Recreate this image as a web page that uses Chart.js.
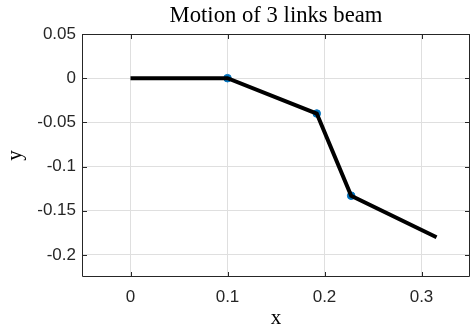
<!DOCTYPE html>
<html>
<head>
<meta charset="utf-8">
<script src="https://cdn.jsdelivr.net/npm/chart.js@4.4.1/dist/chart.umd.min.js"></script>
<style>
  html, body { margin: 0; padding: 0; background: #ffffff; }
  #wrap { width: 472px; height: 329px; }
</style>
</head>
<body>
<div id="wrap"><canvas id="c" width="472" height="329"></canvas></div>
<script>
// ---- data ----
const chartTitle = 'Motion of 3 links beam';
const xAxisLabel = 'x';
const yAxisLabel = 'y';
const beamX = [0, 0.1, 0.192, 0.2275, 0.3155];
const beamY = [0, 0, -0.040, -0.133, -0.180];
const jointX = [0.1, 0.192, 0.2275];
const jointY = [0, -0.040, -0.133];
const xTicks = [0, 0.1, 0.2, 0.3];
const xTickLabels = ['0', '0.1', '0.2', '0.3'];
const yTicks = [0.05, 0, -0.05, -0.1, -0.15, -0.2];
const yTickLabels = ['0.05', '0', '-0.05', '-0.1', '-0.15', '-0.2'];
const xRange = [-0.05, 0.35];
const yRange = [-0.225, 0.05];

const axisColor = '#262626';
const gridColor = '#dfdfdf';
const serif = "'Liberation Serif', 'Times New Roman', serif";
const sans = "'Liberation Sans', Arial, Helvetica, sans-serif";

function labelFor(ticks, labels, v) {
  const i = ticks.findIndex(t => Math.abs(t - v) < 1e-9);
  return i >= 0 ? labels[i] : '';
}

// MATLAB-like box with inward tick marks on all four sides, and the title
const boxPlugin = {
  id: 'matlabBox',
  afterDatasetsDraw(chart) {
    const {ctx, chartArea: a, scales} = chart;
    const tl = 5;
    ctx.save();
    ctx.strokeStyle = axisColor;
    ctx.lineWidth = 1;
    ctx.beginPath();
    ctx.rect(Math.round(a.left) + 0.5, Math.round(a.top) + 0.5,
             Math.round(a.right - a.left) - 1, Math.round(a.bottom - a.top) - 1);
    ctx.stroke();
    ctx.beginPath();
    xTicks.forEach(v => {
      const px = Math.round(scales.x.getPixelForValue(v)) + 0.5;
      ctx.moveTo(px, a.bottom); ctx.lineTo(px, a.bottom - tl);
      ctx.moveTo(px, a.top); ctx.lineTo(px, a.top + tl);
    });
    yTicks.forEach(v => {
      const py = Math.round(scales.y.getPixelForValue(v)) + 0.5;
      ctx.moveTo(a.left, py); ctx.lineTo(a.left + tl, py);
      ctx.moveTo(a.right, py); ctx.lineTo(a.right - tl, py);
    });
    ctx.stroke();
    ctx.fillStyle = '#000000';
    ctx.font = "22.7px " + serif;
    ctx.textAlign = 'center';
    ctx.textBaseline = 'alphabetic';
    ctx.fillText(chartTitle, (a.left + a.right) / 2, 22);
    ctx.restore();
  }
};

new Chart(document.getElementById('c'), {
  type: 'scatter',
  data: {
    datasets: [
      {
        label: 'beam',
        data: beamX.map((x, i) => ({x: x, y: beamY[i]})),
        showLine: true,
        borderColor: '#000000',
        borderWidth: 4,
        pointRadius: 0,
        pointHoverRadius: 0,
        tension: 0,
        order: 0
      },
      {
        label: 'joints',
        data: jointX.map((x, i) => ({x: x, y: jointY[i]})),
        showLine: false,
        pointRadius: 3.8,
        pointBackgroundColor: '#0072BD',
        pointBorderColor: '#0072BD',
        pointBorderWidth: 1,
        order: 1
      }
    ]
  },
  options: {
    responsive: false,
    animation: false,
    devicePixelRatio: 1,
    layout: { autoPadding: false, padding: { top: 34, left: 0, right: 2, bottom: 0 } },
    plugins: {
      legend: { display: false },
      tooltip: { enabled: false },
      title: { display: false }
    },
    scales: {
      x: {
        type: 'linear',
        min: xRange[0],
        max: xRange[1],
        afterBuildTicks: s => { s.ticks = xTicks.map(v => ({value: v})); },
        afterFit: s => { s.height = 52; },
        grid: { color: gridColor, lineWidth: 1, drawTicks: false },
        border: { display: false },
        ticks: {
          color: axisColor,
          font: { family: sans, size: 17 },
          padding: 10,
          maxRotation: 0,
          callback: v => labelFor(xTicks, xTickLabels, v)
        },
        title: {
          display: true,
          text: xAxisLabel,
          color: '#000000',
          font: { family: serif, size: 21, lineHeight: 1 },
          padding: { top: 0, bottom: 0 }
        }
      },
      y: {
        type: 'linear',
        min: yRange[0],
        max: yRange[1],
        afterBuildTicks: s => { s.ticks = yTicks.map(v => ({value: v})); },
        afterFit: s => { s.width = 82; },
        grid: { color: gridColor, lineWidth: 1, drawTicks: false },
        border: { display: false },
        ticks: {
          color: axisColor,
          font: { family: sans, size: 17 },
          padding: 6,
          callback: v => labelFor(yTicks, yTickLabels, v)
        },
        title: {
          display: true,
          text: yAxisLabel,
          color: '#000000',
          font: { family: serif, size: 21, lineHeight: 1 },
          padding: { top: 5, bottom: 0 }
        }
      }
    }
  },
  plugins: [boxPlugin]
});
</script>
</body>
</html>
